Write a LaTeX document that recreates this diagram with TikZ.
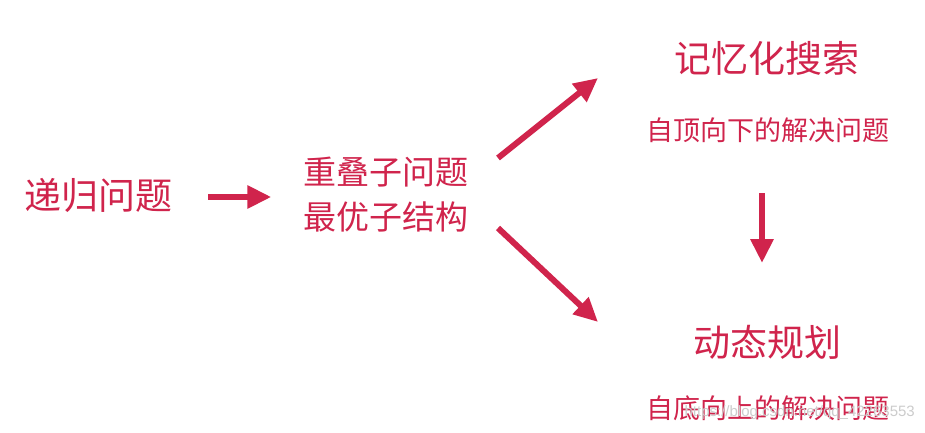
\documentclass[tikz,border=0pt]{standalone}
\usepackage{fontspec}
\setmainfont{Liberation Sans}
\newfontfamily\cjk{Noto Sans CJK SC}
\usetikzlibrary{arrows.meta,calc}
\definecolor{crim}{RGB}{208,36,76}
\begin{document}
\begin{tikzpicture}[x=1pt,y=-1pt,
  lbl/.style={text=crim,font=\cjk\fontsize{37}{40}\selectfont,inner sep=0pt,anchor=center},
  mid/.style={text=crim,font=\cjk\fontsize{33}{45}\selectfont,inner sep=0pt,align=center},
  sub/.style={text=crim,font=\cjk\fontsize{27}{30}\selectfont,inner sep=0pt},
  arr/.style={draw=crim,line width=6pt,-{Triangle[length=24pt,width=22pt]}}]
\useasboundingbox[fill=white] (0,0) rectangle (925,433);
\node[lbl] (rec) at (98,195) {递归问题};
\node[mid] (ovl) at (386,195) {重叠子问题\\最优子结构};
\node[lbl] (memo) at (767,58) {记忆化搜索};
\node[sub] (memosub) at (768,130) {自顶向下的解决问题};
\node[lbl] (dp) at (767,342) {动态规划};
\node[sub] (dpsub) at (768,408) {自底向上的解决问题};
\coordinate (u0) at (498,158);
\coordinate (u1) at (598,78);
\coordinate (d0) at (498,228);
\coordinate (d1) at (598,322);
\coordinate (v0) at (762,193);
\coordinate (v1) at (762,263);
\draw[arr] ([xshift=36pt,yshift=-2pt]rec.east) -- ([xshift=-32pt,yshift=-2pt]ovl.west);
\draw[arr] (u0) -- (u1);
\draw[arr] (d0) -- (d1);
\draw[arr] (v0) -- (v1);
\node[text=gray!40,font=\fontsize{15}{16}\selectfont,inner sep=0pt,anchor=east] (wm) at (915,413) {https://blog.csdn.net/qq\_42263553};
\end{tikzpicture}
\end{document}
